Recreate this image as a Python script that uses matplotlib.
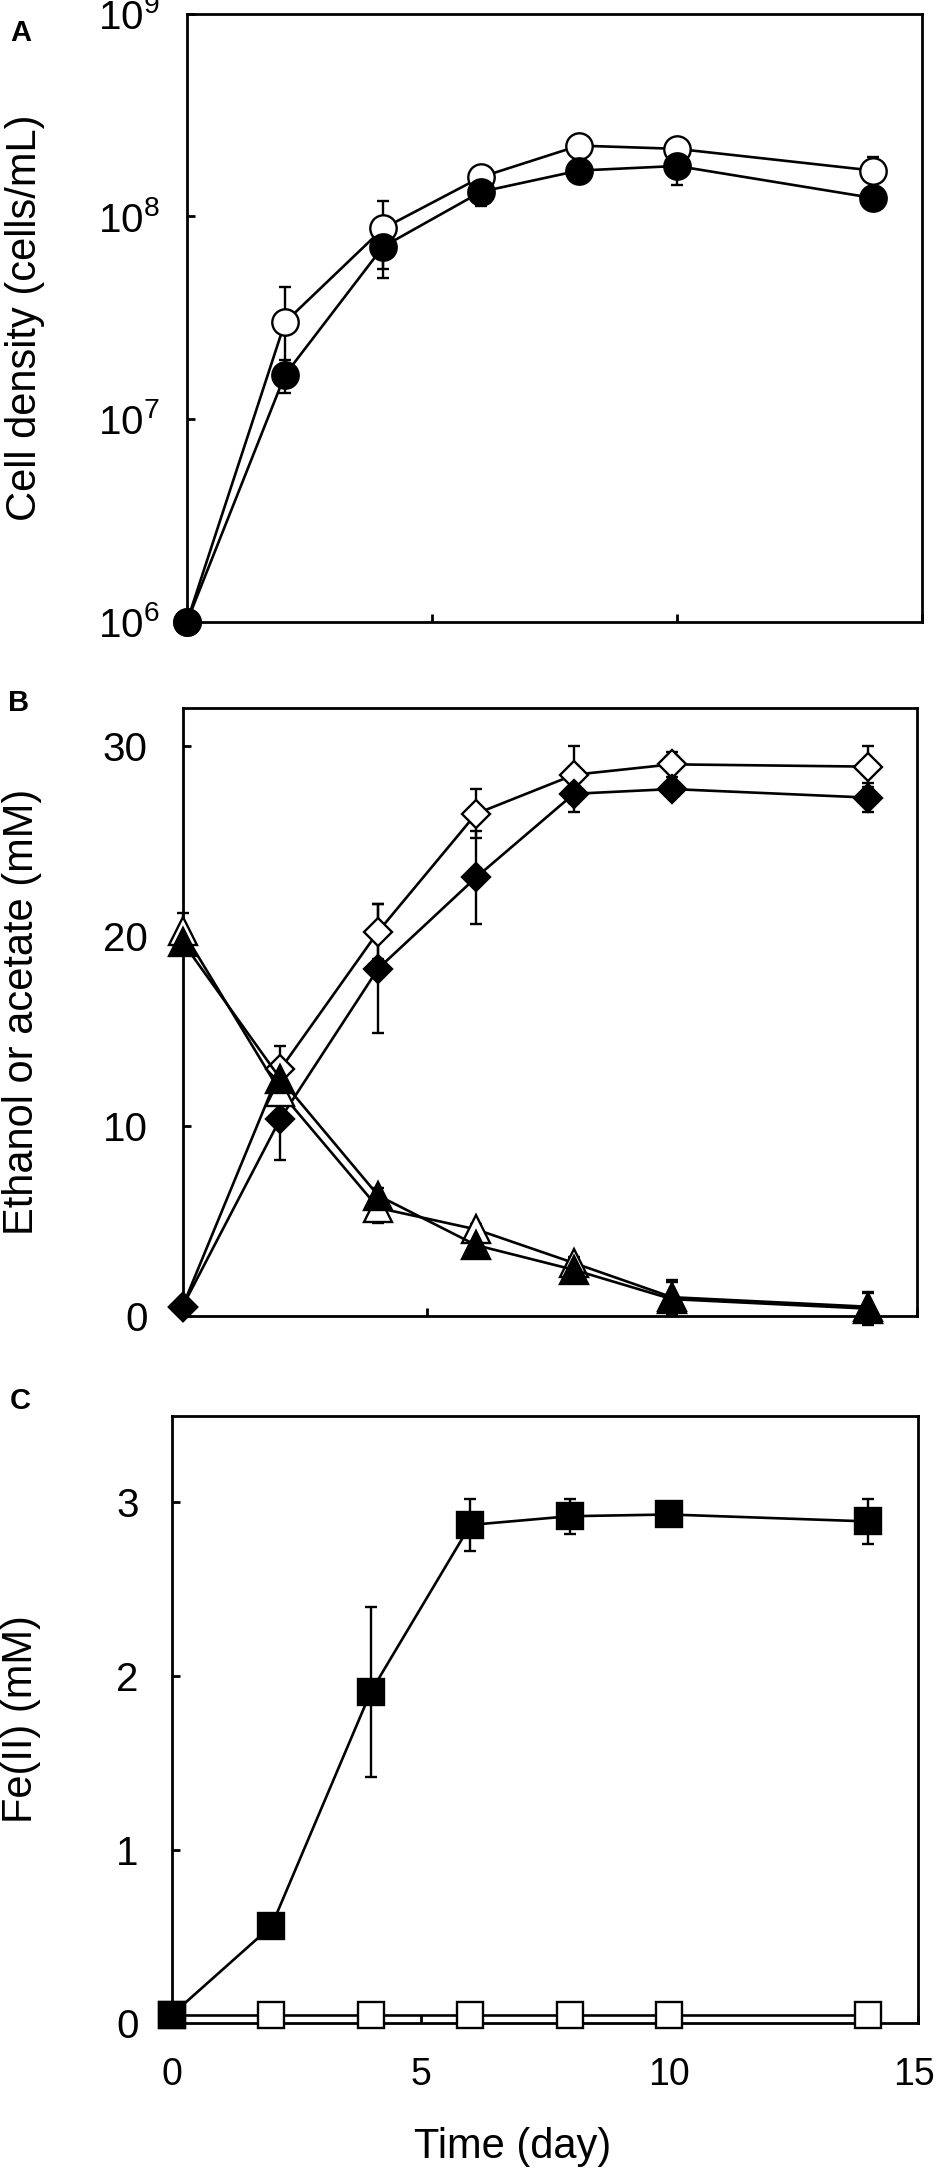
import numpy as np
import matplotlib
matplotlib.use("Agg")
import matplotlib.pyplot as plt
import matplotlib.transforms as mtransforms
from matplotlib.ticker import LogLocator, FixedLocator, NullLocator

plt.rcParams['font.family'] = ['Liberation Sans', 'DejaVu Sans']
plt.rcParams['mathtext.default'] = 'regular'

# sampling times (day)
days = [0, 2, 4, 6, 8, 10, 14]

# panel A: cell density (cells/mL)
cells_open = [1.0e6, 3.0e7, 8.7e7, 1.56e8, 2.23e8, 2.15e8, 1.68e8]
cells_open_err = [0, 1.47e7, 3.2e7, 1.0e7, 1.0e7, 1.0e7, 2.8e7]
cells_filled = [1.0e6, 1.65e7, 7.07e7, 1.32e8, 1.68e8, 1.77e8, 1.23e8]
cells_filled_err = [0, 3.0e6, 2.1e7, 2.0e7, 1.0e7, 3.4e7, 8.0e6]

# panel B: ethanol / acetate (mM)
diam_open = [0.5, 13.0, 20.25, 26.45, 28.5, 29.05, 28.93]
diam_open_err = [0.2, 1.2, 1.45, 1.3, 1.5, 0.65, 1.07]
diam_filled = [0.5, 10.4, 18.3, 23.1, 27.5, 27.75, 27.3]
diam_filled_err = [0.2, 2.2, 3.4, 2.45, 0.95, 0.4, 0.75]
tri_open = [20.3, 11.8, 5.7, 4.57, 2.8, 1.0, 0.5]
tri_open_err = [0.95, 0.6, 0.8, 0.3, 0.3, 0.9, 0.7]
tri_filled = [19.7, 12.5, 6.35, 3.74, 2.44, 0.9, 0.4]
tri_filled_err = [0.5, 0.6, 0.4, 0.3, 0.3, 0.9, 0.85]

# panel C: Fe(II) (mM)
fe_filled = [0.05, 0.56, 1.91, 2.87, 2.92, 2.93, 2.89]
fe_filled_err = [0.02, 0.03, 0.49, 0.15, 0.1, 0.03, 0.13]
fe_open = [0.05, 0.05, 0.05, 0.05, 0.05, 0.05, 0.05]

W, H = 938, 2171
fig = plt.figure(figsize=(W / 100, H / 100), dpi=100)


def px_axes(left, right, top, bottom):
    return fig.add_axes([left / W, 1 - bottom / H, (right - left) / W, (bottom - top) / H])


def style(ax, pad):
    for s in ax.spines.values():
        s.set_linewidth(2.0)
    ax.tick_params(direction='in', length=6, width=2, labelsize=29)
    ax.tick_params(axis='y', pad=pad)
    ax.tick_params(axis='x', pad=24, labelsize=27)
    ax.set_xlim(0, 15)
    ax.xaxis.set_major_locator(FixedLocator([0, 5, 10, 15]))


def series(ax, y, err, marker, ms, filled):
    fc = 'black' if filled else 'white'
    ax.errorbar(days, y, yerr=err, fmt='-', color='black', lw=1.9,
                marker=marker, ms=ms, mfc=fc, mec='black', mew=1.7,
                ecolor='black', elinewidth=1.7, capsize=4.5, capthick=1.7,
                clip_on=False, zorder=3)


# ---- A ----
axA = px_axes(187, 922, 13.5, 621.7)
style(axA, 20)
axA.set_yscale('log')
axA.set_ylim(1e6, 1e9)
axA.yaxis.set_major_locator(LogLocator(base=10, numticks=10))
axA.yaxis.set_minor_locator(NullLocator())
axA.set_xticklabels([])
series(axA, cells_open, cells_open_err, 'o', 19, False)
series(axA, cells_filled, cells_filled_err, 'o', 19, True)
axA.set_ylabel('Cell density (cells/mL)', fontsize=30, va='center')
axA.yaxis.set_label_coords((25 - 187) / (922 - 187), 0.5)

# ---- B ----
axB = px_axes(182.5, 916.5, 708.3, 1316.2)
style(axB, 25)
axB.set_ylim(0, 32)
axB.yaxis.set_major_locator(FixedLocator([0, 10, 20, 30]))
axB.set_xticklabels([])
series(axB, diam_open, diam_open_err, 'D', 14.5, False)
series(axB, diam_filled, diam_filled_err, 'D', 14.5, True)
series(axB, tri_open, tri_open_err, '^', 20, False)
series(axB, tri_filled, tri_filled_err, '^', 20, True)
axB.set_ylabel('Ethanol or acetate (mM)', fontsize=30, va='center')
axB.yaxis.set_label_coords((22.5 - 182.5) / (916.5 - 182.5), 0.5)

# ---- C ----
axC = px_axes(172, 918, 1415.5, 2023.3)
style(axC, 24)
axC.set_ylim(0, 3.5)
axC.yaxis.set_major_locator(FixedLocator([0, 1, 2, 3]))
series(axC, fe_open, [0] * len(days), 's', 19, False)
series(axC, fe_filled, fe_filled_err, 's', 19, True)
axC.set_ylabel('Fe(II) (mM)', fontsize=30, va='center')
axC.yaxis.set_label_coords((21 - 172) / (918 - 172), 0.5)
axC.set_xlabel('Time (day)', fontsize=30, va='center')
axC.xaxis.set_label_coords((513 - 172) / (918 - 172), -(2147 - 2023.3) / (2023.3 - 1415.5))

# keep the last x tick label inside the canvas
last = axC.get_xticklabels()[-1]
last.set_transform(last.get_transform() + mtransforms.ScaledTranslation(-4 / 100, 0, fig.dpi_scale_trans))

# panel letters
fig.text(10 / W, 1 - 41 / H, 'A', fontsize=21, fontweight='bold')
fig.text(8 / W, 1 - 711 / H, 'B', fontsize=21, fontweight='bold')
fig.text(10 / W, 1 - 1409 / H, 'C', fontsize=21, fontweight='bold')

fig.savefig('out.png', dpi=100)
